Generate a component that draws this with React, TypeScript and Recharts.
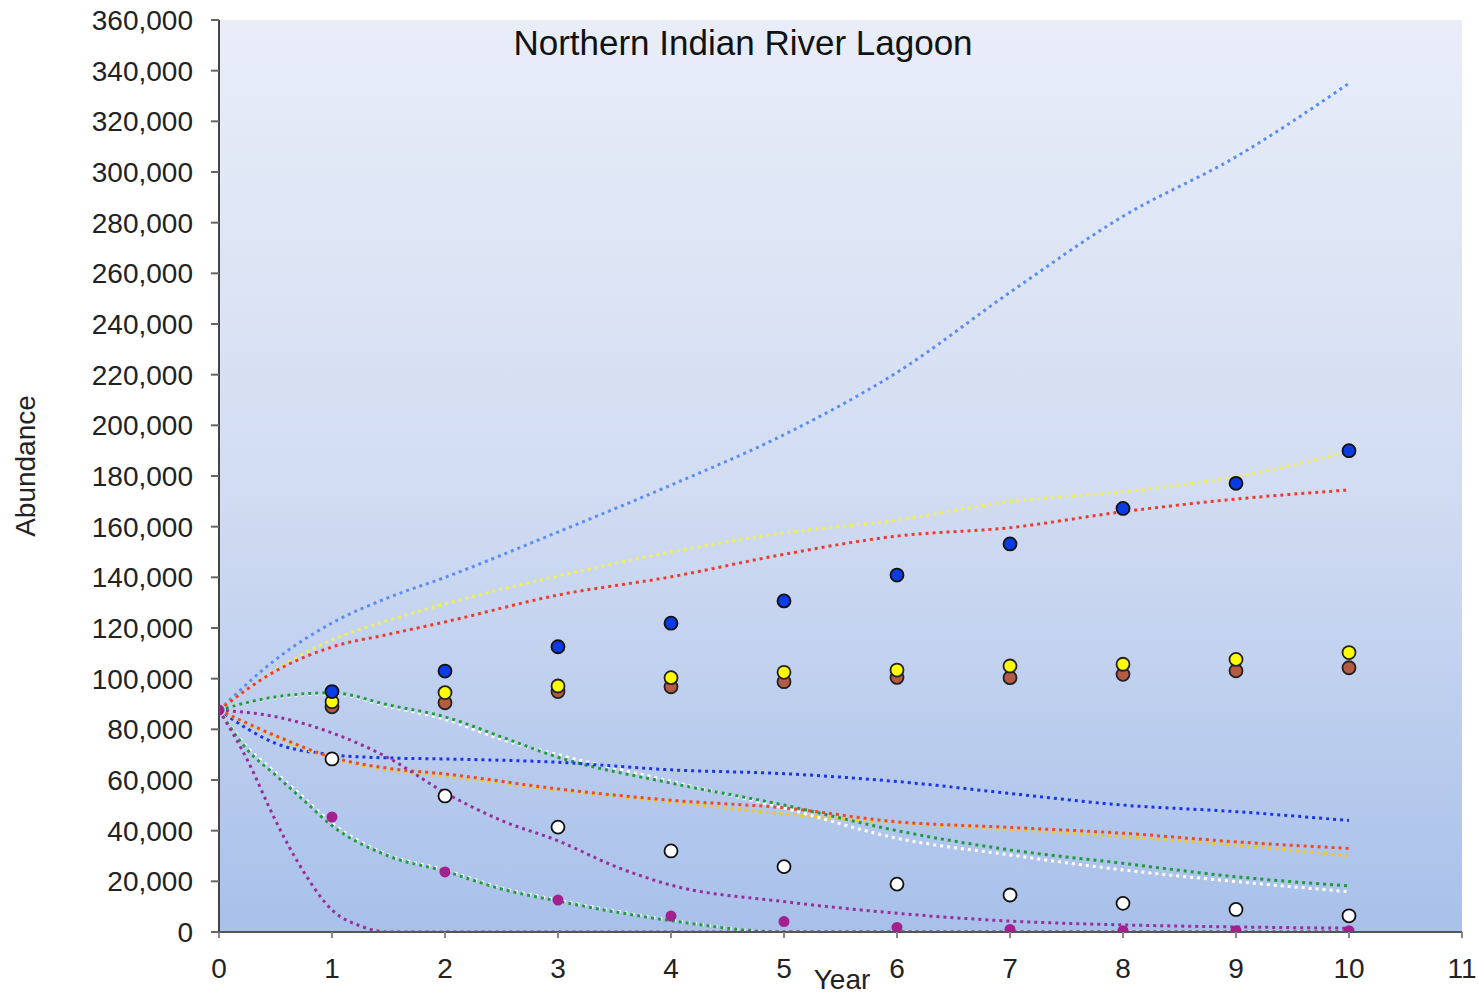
import React from "react";
import { ComposedChart, Line, Scatter, XAxis, YAxis, CartesianGrid } from "recharts";

// ---- tick labels ----
const xTicks = [0, 1, 2, 3, 4, 5, 6, 7, 8, 9, 10, 11];
const yTicks = [0, 20000, 40000, 60000, 80000, 100000, 120000, 140000, 160000, 180000, 200000, 220000, 240000, 260000, 280000, 300000, 320000, 340000, 360000];

// ---- observed points ----
const obsYears = [1, 2, 3, 4, 5, 6, 7, 8, 9, 10];
const blueObs = [94900, 103000, 112600, 121900, 130700, 140900, 153200, 167200, 177100, 190000];
const yellowObs = [90900, 94500, 97100, 100400, 102500, 103400, 105000, 105700, 107600, 110300];
const brownObs = [88900, 90500, 94900, 96800, 98800, 100500, 100400, 101700, 103100, 104300];
const whiteObs = [68300, 53700, 41400, 32000, 25800, 18900, 14600, 11300, 8900, 6400];
const purpleYears = [0, 1, 2, 3, 4, 5, 6, 7, 8, 9, 10];
const purpleObs = [87600, 45400, 23700, 12600, 6300, 4100, 1800, 1000, 500, 500, 500];

// ---- projected trajectories ----
const halfYears = [0, 0.5, 1, 1.5, 2, 3, 4, 5, 6, 7, 8, 9, 10];
const lightBlueUpper = [87600, 107500, 122000, 132000, 140000, 157900, 176400, 196300, 220900, 252500, 282500, 306000, 335000];
const yellowUpper = [87600, 103500, 115300, 123000, 129500, 140500, 150000, 157500, 162600, 169900, 173800, 179700, 189600];
const redUpper = [87600, 103000, 112500, 117500, 122400, 133000, 140200, 149100, 156300, 159600, 165900, 170900, 174500];
const darkBlueMiddle = [87600, 74500, 70000, 68700, 68300, 67000, 64000, 62500, 59400, 54700, 50100, 47500, 44000];
const orangeLower = [87600, 77500, 69000, 64600, 62400, 56500, 52000, 49000, 43500, 41300, 39000, 35600, 33000];
const yellowLower = [87600, 77000, 68500, 64000, 61500, 56000, 51300, 46600, 43100, 40500, 37600, 34300, 30000];

const humpYears = [0, 0.5, 1, 1.5, 2, 2.5, 3, 4, 5, 6, 7, 8, 9, 10];
const greenHump = [87600, 92800, 94400, 89600, 84900, 77000, 69000, 58800, 50100, 40000, 32400, 27100, 21800, 18200];
const whiteHump = [87600, 92500, 94000, 89000, 84000, 76000, 70000, 59500, 48900, 37000, 30400, 24500, 19900, 15900];

const midYears = [0, 0.5, 1, 1.5, 2, 2.5, 3, 3.5, 4, 5, 6, 7, 8, 9, 10];
const purpleMiddle = [87600, 85000, 78600, 68700, 55000, 44000, 36000, 26000, 18500, 12000, 7400, 4300, 2800, 2000, 1500];

const lowYears = [0, 0.25, 0.5, 0.75, 1, 1.5, 2, 2.5, 3, 4, 5, 6, 7, 8, 9, 10];
const whiteLower = [87600, 73000, 63000, 53000, 43000, 30400, 24500, 17400, 12600, 4700, 0, 0, 0, 0, 0, 0];
const greenLower = [87600, 72000, 62000, 52000, 42000, 30000, 24000, 17000, 12200, 4500, 0, 0, 0, 0, 0, 0];

const steepYears = [0, 0.25, 0.5, 0.75, 1, 1.25, 1.5, 2, 3, 4, 5, 6, 7, 8, 9, 10];
const purpleLower = [87600, 68000, 44000, 23700, 8700, 2400, 0, 0, 0, 0, 0, 0, 0, 0, 0, 0];

const pts = (xs: number[], ys: number[]) => xs.map((x, i) => ({ x, y: ys[i] }));

const FONT = '"Liberation Sans", Arial, Helvetica, sans-serif';

const lines = [
  { name: "lightBlueUpper", data: pts(halfYears, lightBlueUpper), color: "#5b8ef2" },
  { name: "yellowUpper", data: pts(halfYears, yellowUpper), color: "#f2ee55" },
  { name: "redUpper", data: pts(halfYears, redUpper), color: "#ef3b2c" },
  { name: "whiteHump", data: pts(humpYears, whiteHump), color: "#ffffff" },
  { name: "greenHump", data: pts(humpYears, greenHump), color: "#1f9a3d" },
  { name: "darkBlueMiddle", data: pts(halfYears, darkBlueMiddle), color: "#1a36e6" },
  { name: "yellowLower", data: pts(halfYears, yellowLower), color: "#f4c81c" },
  { name: "orangeLower", data: pts(halfYears, orangeLower), color: "#ef4a28" },
  { name: "purpleMiddle", data: pts(midYears, purpleMiddle), color: "#98309a" },
  { name: "whiteLower", data: pts(lowYears, whiteLower), color: "#ffffff" },
  { name: "greenLower", data: pts(lowYears, greenLower), color: "#1f9a3d" },
  { name: "purpleLower", data: pts(steepYears, purpleLower), color: "#98309a" },
];

const dotShape = (fill: string, stroke: string | null, r: number) => (p: any) => (
  <circle cx={p.cx} cy={p.cy} r={r} fill={fill} stroke={stroke || "none"} strokeWidth={stroke ? 1.8 : 0} />
);

export default function App() {
  return (
    <div style={{ position: "absolute", left: 0, top: 0, width: 1479, height: 998, background: "#ffffff" }}>
      <ComposedChart width={1479} height={998} margin={{ top: 20, right: 17, bottom: 26, left: 139 }}>
        <defs>
          <linearGradient id="bgGrad" x1="0" y1="0" x2="0" y2="1">
            <stop offset="0%" stopColor="#e8edf8" />
            <stop offset="50%" stopColor="#d3ddf2" />
            <stop offset="100%" stopColor="#a8c0ea" />
          </linearGradient>
        </defs>
        <CartesianGrid horizontal={false} vertical={false} fill="url(#bgGrad)" stroke="none" />
        <XAxis
          type="number"
          dataKey="x"
          domain={[0, 11]}
          ticks={xTicks}
          interval={0}
          height={40}
          tickSize={6}
          tickMargin={20}
          axisLine={{ stroke: "#555", strokeWidth: 2 }}
          tickLine={{ stroke: "#888", strokeWidth: 2 }}
          tick={{ fill: "#222", fontSize: 28, fontFamily: FONT }}
          allowDataOverflow
        />
        <YAxis
          type="number"
          dataKey="y"
          domain={[0, 360000]}
          ticks={yTicks}
          interval={0}
          width={80}
          tickSize={8}
          tickMargin={18}
          axisLine={{ stroke: "#444", strokeWidth: 2 }}
          tickLine={{ stroke: "#666", strokeWidth: 2 }}
          tick={{ fill: "#222", fontSize: 28, fontFamily: FONT }}
          tickFormatter={(v: number) => v.toLocaleString("en-US")}
          allowDataOverflow
        />
        {lines.map((l) => (
          <Line
            key={l.name}
            data={l.data}
            dataKey="y"
            type="monotone"
            stroke={l.color}
            strokeWidth={3}
            strokeDasharray="3 4"
            dot={false}
            activeDot={false}
            isAnimationActive={false}
          />
        ))}
        <Scatter data={pts(obsYears, whiteObs)} dataKey="y" shape={dotShape("#ffffff", "#111", 6.5)} isAnimationActive={false} />
        <Scatter data={pts(obsYears, brownObs)} dataKey="y" shape={dotShape("#b55a43", "#222", 6.5)} isAnimationActive={false} />
        <Scatter data={pts(obsYears, yellowObs)} dataKey="y" shape={dotShape("#ffff00", "#222", 6.5)} isAnimationActive={false} />
        <Scatter data={pts(obsYears, blueObs)} dataKey="y" shape={dotShape("#0a3ce6", "#111", 6.5)} isAnimationActive={false} />
        <Scatter data={pts(purpleYears, purpleObs)} dataKey="y" shape={dotShape("#a3208e", null, 5.5)} isAnimationActive={false} />
      </ComposedChart>
      <svg width={1479} height={998} style={{ position: "absolute", left: 0, top: 0, pointerEvents: "none" }}>
        <text x={743} y={55} textAnchor="middle" fontSize={35} fontFamily={FONT} fill="#111">
          Northern Indian River Lagoon
        </text>
        <text x={35} y={466} textAnchor="middle" fontSize={28} fontFamily={FONT} fill="#222" transform="rotate(-90 35 466)">
          Abundance
        </text>
        <text x={842} y={989} textAnchor="middle" fontSize={28} fontFamily={FONT} fill="#222">
          Year
        </text>
      </svg>
    </div>
  );
}
